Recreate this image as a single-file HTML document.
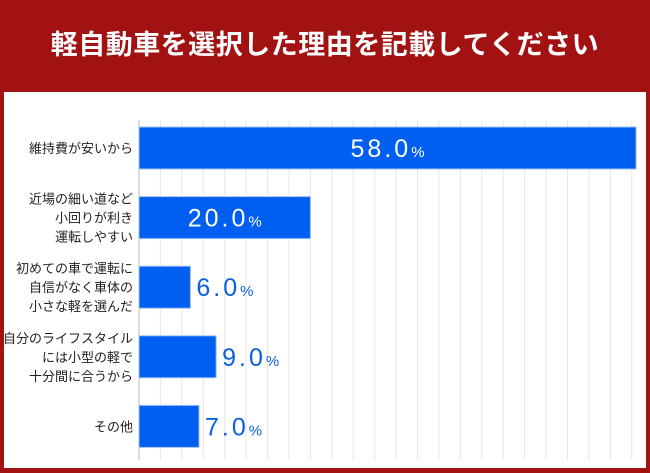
<!DOCTYPE html>
<html><head><meta charset="utf-8"><style>
body{margin:0;width:650px;height:473px;background:#a31212;font-family:"Liberation Sans","Noto Sans CJK JP",sans-serif;overflow:hidden}
#title{position:absolute;left:0;top:0;width:650px;height:92px;line-height:90px;text-align:center;color:#fff;font-size:27px;font-weight:bold;letter-spacing:0.5px}
#panel{position:absolute;left:4px;top:92px;width:642px;height:376px;background:#fff}
svg{position:absolute;left:0;top:0}
</style></head><body>
<div id="title">軽自動車を選択した理由を記載してください</div>
<div id="panel"></div>
<svg id="chart" width="650" height="473"></svg>
<script>
const categories=[["維持費が安いから"],["近場の細い道など","小回りが利き","運転しやすい"],["初めての車で運転に","自信がなく車体の","小さな軽を選んだ"],["自分のライフスタイル","には小型の軽で","十分間に合うから"],["その他"]];
const values=[58.0,20.0,6.0,9.0,7.0];
const gridTicks=[0,2.5,5,7.5,10,12.5,15,17.5,20,22.5,25,27.5,30,32.5,35,37.5,40,42.5,45,47.5,50,52.5,55,57.5];
const NS="http://www.w3.org/2000/svg";
const svg=document.getElementById('chart');
const x0=139,pxPer=8.57;
const xs=v=>x0+v*pxPer;
const ys=i=>127+i*69.6;
const bh=42;
function mk(t,a){const e=document.createElementNS(NS,t);for(const k in a)e.setAttribute(k,a[k]);svg.appendChild(e);return e;}
gridTicks.forEach((t,i)=>{const l=mk('line',{x1:xs(t),x2:xs(t),y1:120,y2:460,stroke:i==0?'#bbb':'#e6e6e6','stroke-width':1});

});
values.forEach((v,i)=>{
const y=ys(i);
const r=mk('rect',{x:x0,y:y,width:xs(v)-x0,height:bh,fill:'#005ff0',stroke:'#9cc0f5','stroke-width':1});


const inside=v>15;
const t=mk('text',{y:y+bh/2+9,'font-size':25,fill:inside?'#fff':'#0a5fe0','text-anchor':inside?'middle':'start','letter-spacing':'3'});
t.setAttribute('x',inside?(x0+xs(v))/2:xs(v)+6);
t.innerHTML=v.toFixed(1)+'<tspan font-size="15" letter-spacing="0">%</tspan>';


const lines=categories[i];
lines.forEach((s,j)=>{const c=mk('text',{x:133,y:y+bh/2+5+(j-(lines.length-1)/2)*19,'font-size':13,fill:'#222','text-anchor':'end'});
c.textContent=s;

});
});
</script>
</body></html>
